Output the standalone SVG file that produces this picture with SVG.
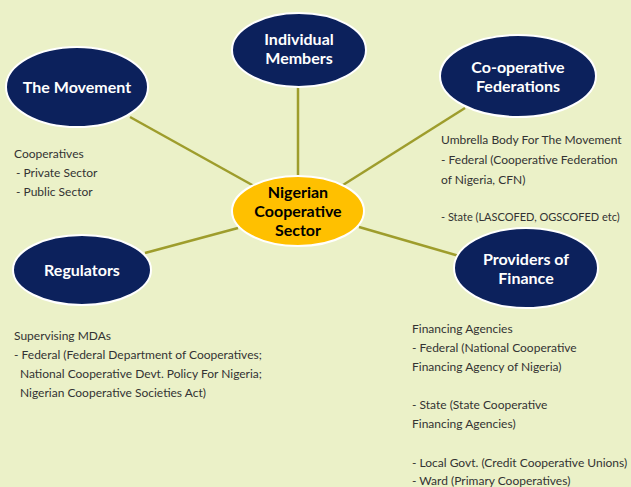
<svg xmlns="http://www.w3.org/2000/svg" width="631" height="487" viewBox="0 0 631 487">
<style>
.bg{fill:#EBF1C8}
.node{fill:#0C215C;stroke:#ffffff;stroke-width:2}
.hub{fill:#FFC000;stroke:#ffffff;stroke-width:2}
.lbl{font-family:Lato,"Open Sans",sans-serif;font-weight:bold;font-size:16px;fill:#ffffff;text-anchor:middle}
.hubl{font-family:Lato,"Open Sans",sans-serif;font-weight:bold;font-size:16px;fill:#000000;text-anchor:middle}
.body{font-family:Lato,"Open Sans",sans-serif;font-size:12px;fill:#333333}
.con line{stroke:#9E9D2C;stroke-width:2.5}
</style>
<rect class="bg" x="0" y="0" width="631" height="487"/>
<g id="connectors" class="con">
<line x1="130" y1="117" x2="254" y2="186"/>
<line x1="298" y1="87" x2="298" y2="177"/>
<line x1="465" y1="108" x2="343" y2="185"/>
<line x1="145" y1="253" x2="238" y2="228"/>
<line x1="459" y1="256" x2="359" y2="227"/>
</g>
<g id="hub">
<ellipse class="hub" cx="298" cy="211" rx="66" ry="35"/>
<text class="hubl" x="298" y="198">Nigerian</text>
<text class="hubl" x="298" y="217">Cooperative</text>
<text class="hubl" x="298" y="236">Sector</text>
</g>
<g id="movement">
<ellipse class="node" cx="77" cy="87" rx="71" ry="40"/>
<text class="lbl" x="77" y="93">The Movement</text>
</g>
<g id="individual">
<ellipse class="node" cx="299" cy="50" rx="67" ry="37"/>
<text class="lbl" x="299" y="45">Individual</text>
<text class="lbl" x="299" y="64">Members</text>
</g>
<g id="federations">
<ellipse class="node" cx="518" cy="76" rx="78" ry="41"/>
<text class="lbl" x="518" y="73">Co-operative</text>
<text class="lbl" x="518" y="92">Federations</text>
</g>
<g id="regulators">
<ellipse class="node" cx="82" cy="270" rx="69" ry="35"/>
<text class="lbl" x="82" y="276">Regulators</text>
</g>
<g id="finance">
<ellipse class="node" cx="526" cy="268" rx="72" ry="40"/>
<text class="lbl" x="526" y="265">Providers of</text>
<text class="lbl" x="526" y="284">Finance</text>
</g>
<g id="movement-notes" class="body">
<text x="14" y="158">Cooperatives</text>
<text x="16" y="177">- Private Sector</text>
<text x="16" y="196">- Public Sector</text>
</g>
<g id="federation-notes" class="body">
<text x="441" y="144">Umbrella Body For The Movement</text>
<text x="441" y="164">- Federal (Cooperative Federation</text>
<text x="441" y="184">of Nigeria, CFN)</text>
<text x="441" y="221" style="font-size:11px">- State (LASCOFED, OGSCOFED etc)</text>
</g>
<g id="regulator-notes" class="body">
<text x="14" y="340">Supervising MDAs</text>
<text x="14" y="359">- Federal (Federal Department of Cooperatives;</text>
<text x="20" y="378">National Cooperative Devt. Policy For Nigeria;</text>
<text x="20" y="397">Nigerian Cooperative Societies Act)</text>
</g>
<g id="finance-notes" class="body">
<text x="412" y="333">Financing Agencies</text>
<text x="412" y="352">- Federal (National Cooperative</text>
<text x="412" y="371">Financing Agency of Nigeria)</text>
<text x="412" y="409">- State (State Cooperative</text>
<text x="412" y="428">Financing Agencies)</text>
<text x="412" y="467">- Local Govt. (Credit Cooperative Unions)</text>
<text x="412" y="485">- Ward (Primary Cooperatives)</text>
</g>
</svg>
